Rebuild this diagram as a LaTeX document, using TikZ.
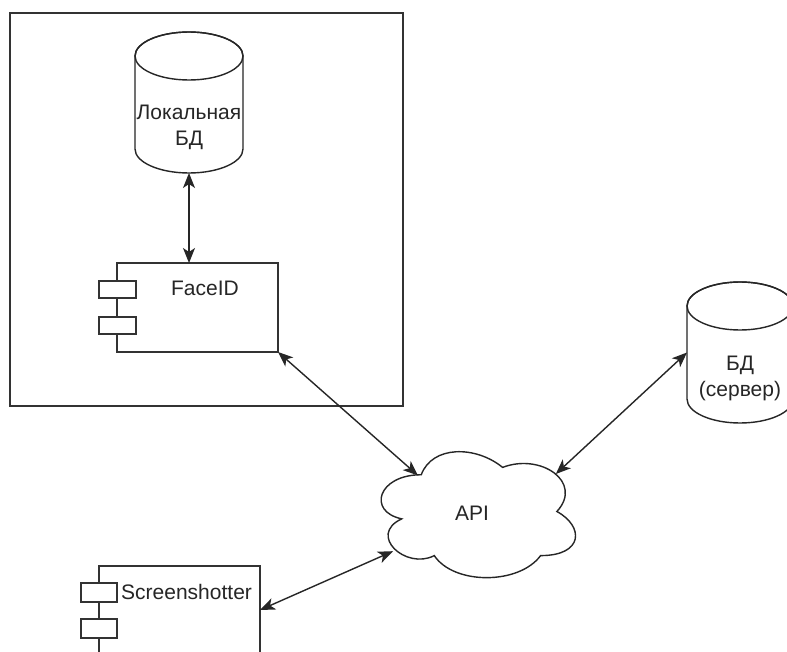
\documentclass[tikz,border=0pt]{standalone}
\usepackage{fontspec}
\setmainfont{Liberation Sans}
\usetikzlibrary{arrows.meta,calc}

\tikzset{
  line/.style={line width=1.4pt, draw=black!85},
  conn/.style={line width=1.4pt, draw=black!85, {Stealth[length=15pt,width=12pt,inset=4pt]}-{Stealth[length=15pt,width=12pt,inset=4pt]}},
  frame/.style={draw=black!80, line width=1.5pt},
  lbl/.style={font=\fontsize{21}{26}\selectfont, align=center, inner sep=0pt, text=black!85},
  hold/.style={inner sep=0pt, outer sep=0pt},
  port/.style={draw=black!80, line width=1.4pt, fill=white}
}

% cylinder: left x, right x, top y, bottom y, ellipse radius y (y axis points down)
\newcommand{\dbcyl}[5]{%
  \pgfmathsetmacro{\cx}{(#1+#2)/2}%
  \pgfmathsetmacro{\rx}{(#2-#1)/2}%
  \draw[line, fill=white] (#1,#3+#5) -- (#1,#4-#5)
    arc[start angle=180, end angle=0, x radius=\rx, y radius=#5]
    -- (#2,#3+#5)
    arc[start angle=0, end angle=-180, x radius=\rx, y radius=#5];
  \draw[line] (\cx,#3+#5) ellipse[x radius=\rx, y radius=#5];
}

\begin{document}
\begin{tikzpicture}[x=1pt, y=-1pt]
\useasboundingbox (0,0) rectangle (787,652);
\clip (0,0) rectangle (787,652);
\fill[white] (0,0) rectangle (787,652);

% outer frame around the local subsystem
\draw[frame] (10,13) rectangle (403,406);

% local database
\dbcyl{135}{243}{32}{173}{24}
\node[hold, minimum width=108pt, minimum height=141pt] (ldb) at (189,102.5) {};
\node[lbl] (ldb-text) at (189,127) {Локальная\\БД};

% server database
\dbcyl{687}{793}{282}{423}{24}
\node[hold, minimum width=106pt, minimum height=141pt] (srv) at (740,352.5) {};
\node[lbl] (srv-text) at (740,378) {БД\\(сервер)};

% FaceID component
\node[hold, draw=black!80, line width=1.4pt, minimum width=161pt, minimum height=89pt] (face) at (197.5,307.5) {};
\draw[port] (99,281) rectangle (136,298);
\draw[port] (99,317) rectangle (136,334);
\node[lbl] (face-text) at (205,288) {FaceID};

% Screenshotter component
\node[hold, draw=black!80, line width=1.4pt, minimum width=161pt, minimum height=88pt] (shot) at (179.5,610) {};
\draw[port] (81,583) rectangle (117,602);
\draw[port] (81,619) rectangle (117,638);
\node[lbl, anchor=west] (shot-text) at (121,592) {Screenshotter};

% API cloud
\begin{scope}[shift={(367,438)}, x=217pt, y=-147pt]
  \draw[line, fill=white]
    (0.25,0.25) .. controls (0.05,0.25) and (0,0.5) .. (0.16,0.55)
    .. controls (0,0.66) and (0.18,0.9) .. (0.31,0.8)
    .. controls (0.4,1) and (0.7,1) .. (0.8,0.8)
    .. controls (1,0.8) and (1,0.6) .. (0.875,0.5)
    .. controls (1,0.3) and (0.8,0.1) .. (0.625,0.2)
    .. controls (0.5,0.05) and (0.3,0.05) .. (0.25,0.25) -- cycle;
  \coordinate (api-nw) at (0.235,0.255);
  \coordinate (api-ne) at (0.87,0.245);
  \coordinate (api-sw) at (0.12,0.77);
\end{scope}
\node[lbl] (api) at (472,513) {API};

% connectors
\draw[conn] (ldb.south) -- (ldb.south |- face.north);
\draw[conn] (face.south east) -- (api-nw);
\draw[conn] (srv.west) -- (api-ne);
\draw[conn] (shot.east) -- (api-sw);
\end{tikzpicture}
\end{document}
